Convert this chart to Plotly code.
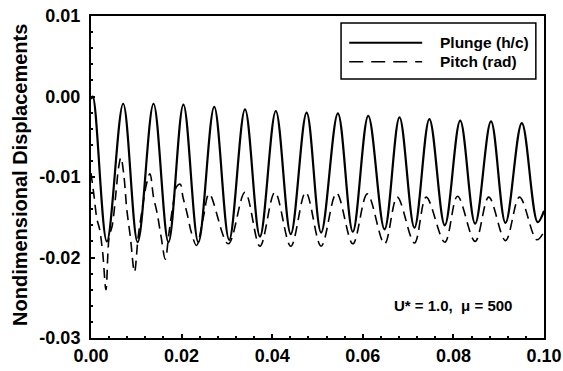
import plotly.graph_objects as go

# ---- data ----
plunge_x = [0.0000, 0.0004, 0.0035, 0.0071, 0.0103, 0.0138, 0.0171, 0.0204, 0.0237,
            0.0272, 0.0305, 0.0340, 0.0373, 0.0408, 0.0441, 0.0476, 0.0508, 0.0545,
            0.0578, 0.0612, 0.0648, 0.0681, 0.0714, 0.0747, 0.0781, 0.0815, 0.0848,
            0.0883, 0.0915, 0.0951, 0.0986, 0.1000]
plunge_y = [-0.0003, 0.0000, -0.0180, -0.0009, -0.0181, -0.0009, -0.0181, -0.0010, -0.0181,
            -0.0013, -0.0178, -0.0016, -0.0174, -0.0018, -0.0171, -0.0020, -0.0169, -0.0021,
            -0.0168, -0.0024, -0.0165, -0.0026, -0.0163, -0.0028, -0.0160, -0.0030, -0.0158,
            -0.0031, -0.0157, -0.0033, -0.0156, -0.0142]

pitch_x = [0.0000, 0.0007, 0.0013, 0.0019, 0.0026, 0.0033, 0.0040, 0.0047, 0.0055,
           0.0061, 0.0066, 0.0072, 0.0079, 0.0087, 0.0096, 0.0104, 0.0113, 0.0122,
           0.0130, 0.0138, 0.0146, 0.0155, 0.0164, 0.0172, 0.0181, 0.0189, 0.0197,
           0.0203, 0.0212, 0.0222, 0.0233, 0.0248, 0.0261, 0.0303, 0.0340, 0.0373,
           0.0406, 0.0441, 0.0474, 0.0508, 0.0542, 0.0578, 0.0610, 0.0648, 0.0676,
           0.0714, 0.0740, 0.0781, 0.0809, 0.0848, 0.0878, 0.0915, 0.0946, 0.0984,
           0.1000]
pitch_y = [-0.0095, -0.0125, -0.0152, -0.0165, -0.0195, -0.0240, -0.0175, -0.0160, -0.0120,
           -0.0088, -0.0076, -0.0095, -0.0140, -0.0175, -0.0218, -0.0175, -0.0140, -0.0110,
           -0.0096, -0.0125, -0.0145, -0.0175, -0.0202, -0.0170, -0.0135, -0.0112, -0.0109,
           -0.0125, -0.0145, -0.0170, -0.0185, -0.0150, -0.0121, -0.0183, -0.0119, -0.0186,
           -0.0119, -0.0186, -0.0119, -0.0186, -0.0120, -0.0183, -0.0121, -0.0183, -0.0125,
           -0.0182, -0.0125, -0.0181, -0.0124, -0.0180, -0.0125, -0.0179, -0.0125, -0.0178,
           -0.0168]

series_names = ["Plunge (h/c)", "Pitch (rad)"]
x_ticks = [0.00, 0.02, 0.04, 0.06, 0.08, 0.10]
x_tick_labels = ["0.00", "0.02", "0.04", "0.06", "0.08", "0.10"]
y_ticks = [-0.03, -0.02, -0.01, 0.00, 0.01]
y_tick_labels = ["-0.03", "-0.02", "-0.01", "0.00", "0.01"]
y_title = "Nondimensional Displacements"
note_text = "U* = 1.0,\u00a0 \u03bc = 500"

FONT = "Liberation Sans, Arial, Helvetica, sans-serif"

fig = go.Figure()
fig.add_trace(go.Scatter(x=plunge_x, y=plunge_y, mode="lines", name=series_names[0],
                         line=dict(color="black", width=2.2, shape="spline", smoothing=1.0),
                         showlegend=False))
fig.add_trace(go.Scatter(x=pitch_x, y=pitch_y, mode="lines", name=series_names[1],
                         line=dict(color="black", width=1.6, dash="10px,6px",
                                   shape="spline", smoothing=1.0),
                         showlegend=False))

# custom legend (box, samples, labels) in paper coordinates
fig.add_shape(type="rect", xref="paper", yref="paper", x0=0.552, x1=0.982, y0=0.804, y1=0.978,
              line=dict(color="black", width=1.5), fillcolor="white", layer="above")
fig.add_shape(type="line", xref="paper", yref="paper", x0=0.570, x1=0.731, y0=0.917, y1=0.917,
              line=dict(color="black", width=2), layer="above")
fig.add_shape(type="line", xref="paper", yref="paper", x0=0.570, x1=0.731, y0=0.858, y1=0.858,
              line=dict(color="black", width=1.5, dash="14px,8px"), layer="above")
for yy, txt in zip([0.917, 0.858], series_names):
    fig.add_annotation(xref="paper", yref="paper", x=0.766, y=yy, text="<b>%s</b>" % txt,
                       showarrow=False, xanchor="left", yanchor="middle",
                       font=dict(family=FONT, size=15.5, color="black"))

fig.add_annotation(xref="paper", yref="paper", x=0.799, y=0.102, text="<b>%s</b>" % note_text,
                   showarrow=False, xanchor="center", yanchor="middle",
                   font=dict(family=FONT, size=15, color="black"))

# y axis title
fig.add_annotation(xref="paper", yref="paper", x=-0.157, y=0.506, text="<b>%s</b>" % y_title,
                   textangle=-90, showarrow=False, xanchor="center", yanchor="middle",
                   font=dict(family=FONT, size=20, color="black"))

axis_common = dict(showgrid=False, zeroline=False, showline=True, linecolor="black",
                   linewidth=2, mirror=True, ticks="inside", ticklen=4, tickwidth=1.5,
                   tickcolor="black", automargin=False, ticklabeloverflow="allow",
                   tickfont=dict(family=FONT, size=18, color="black"))

fig.update_xaxes(range=[0, 0.10], tickvals=x_ticks, ticktext=["<b>%s</b>" % t for t in x_tick_labels],
                 minor=dict(dtick=0.004, tick0=0, ticks="inside", ticklen=2, tickcolor="black"),
                 **axis_common)
fig.update_yaxes(range=[-0.03, 0.01], tickvals=y_ticks, ticktext=["<b>%s</b>" % t for t in y_tick_labels],
                 minor=dict(dtick=0.002, tick0=0, ticks="inside", ticklen=2, tickcolor="black"),
                 ticklabelstandoff=5,
                 **axis_common)

fig.update_layout(width=563, height=371, margin=dict(l=91, r=19, t=16, b=33),
                  paper_bgcolor="white", plot_bgcolor="white", showlegend=False)

# remove the default 8px page margin so the figure fills the window exactly
fig.write_html("out.html", config={"displayModeBar": False},
               post_script="document.body.style.margin='0';")
